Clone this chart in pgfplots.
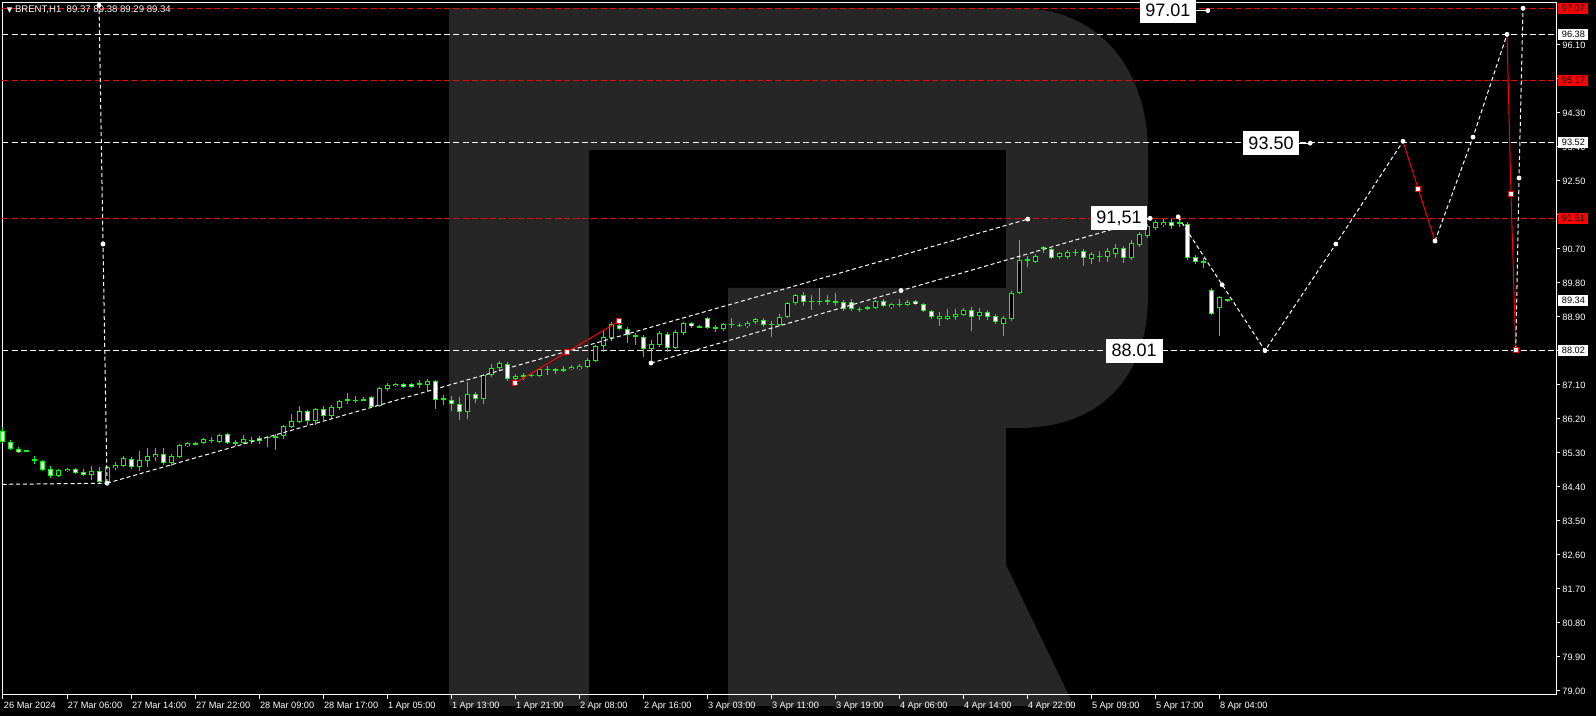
\documentclass[border=0pt]{standalone}
\usepackage{pgfplots}
\pgfplotsset{compat=1.18}
\usepackage{pgfplotstable}
\usepackage{fontspec}
\setmainfont{Liberation Sans}
\newfontfamily\symfont{DejaVu Sans}
\definecolor{cgreen}{HTML}{00FF00}
\definecolor{lgray}{HTML}{262626}
\newcommand\lf{\fontsize{4.6}{5.5}\selectfont}
\newcommand\tf{\fontsize{4.8}{5.5}\selectfont}
\newcommand\biglab{\fontsize{9}{10}\selectfont}

% bullish candles: i open high low close
\pgfplotstableread{
i o h l c
3 85.33 85.38 85.32 85.38
4 85.09 85.22 85.01 85.14
7 84.69 84.88 84.66 84.85
8 84.82 84.90 84.80 84.88
11 84.72 84.96 84.58 84.82
13 84.53 84.96 84.45 84.93
14 84.90 85.06 84.85 84.98
15 84.96 85.22 84.93 85.17
17 84.93 85.35 84.82 85.11
18 85.09 85.43 84.93 85.22
19 85.19 85.43 85.09 85.27
21 85.03 85.27 84.96 85.22
22 85.19 85.54 85.17 85.51
23 85.48 85.59 85.46 85.56
24 85.54 85.59 85.51 85.56
25 85.56 85.70 85.54 85.67
26 85.64 85.72 85.56 85.64
27 85.59 85.80 85.56 85.78
29 85.56 85.64 85.48 85.59
30 85.56 85.78 85.54 85.67
31 85.64 85.72 85.54 85.64
32 85.62 85.75 85.54 85.70
33 85.72 85.75 85.46 85.72
34 85.70 85.80 85.38 85.75
35 85.75 86.04 85.67 86.01
36 85.99 86.33 85.96 86.15
37 86.12 86.54 86.09 86.41
39 86.15 86.49 86.04 86.46
41 86.28 86.57 86.23 86.52
42 86.49 86.70 86.44 86.68
43 86.68 86.89 86.60 86.73
44 86.70 86.81 86.62 86.70
45 86.70 86.78 86.68 86.73
47 86.54 87.05 86.52 87.02
48 86.99 87.15 86.94 87.10
49 87.07 87.14 87.06 87.13
52 87.13 87.23 87.02 87.13
53 87.10 87.26 86.94 87.21
55 86.73 86.83 86.57 86.73
58 86.38 87.18 86.20 86.86
60 86.73 87.39 86.60 87.36
61 87.36 87.66 87.31 87.55
62 87.55 87.73 87.50 87.68
64 87.26 87.39 87.23 87.34
65 87.34 87.42 87.23 87.34
66 87.35 87.39 87.31 87.36
67 87.34 87.55 87.31 87.52
68 87.52 87.60 87.36 87.52
69 87.47 87.55 87.39 87.52
70 87.50 87.60 87.44 87.52
71 87.52 87.63 87.50 87.58
72 87.52 87.66 87.50 87.60
73 87.58 87.81 87.55 87.76
74 87.73 88.16 87.71 88.13
75 88.13 88.53 87.97 88.37
76 88.34 88.77 88.26 88.71
81 88.05 88.29 87.68 88.18
82 88.16 88.53 88.11 88.48
84 88.08 88.56 88.05 88.50
85 88.48 88.77 88.42 88.74
87 88.63 88.69 88.61 88.66
89 88.61 88.69 88.50 88.61
90 88.58 88.74 88.53 88.71
91 88.71 88.87 88.61 88.71
92 88.68 88.74 88.63 88.69
93 88.66 88.79 88.61 88.74
94 88.77 88.87 88.71 88.85
96 88.71 88.79 88.37 88.71
97 88.69 88.98 88.66 88.90
98 88.90 89.30 88.87 89.27
99 89.27 89.51 89.22 89.48
101 89.32 89.48 89.08 89.32
102 89.32 89.67 89.22 89.32
103 89.32 89.48 89.22 89.35
104 89.27 89.53 89.19 89.32
107 89.11 89.16 89.03 89.11
108 89.11 89.19 89.08 89.16
109 89.14 89.35 89.11 89.32
111 89.16 89.27 89.11 89.24
112 89.24 89.38 89.16 89.24
113 89.22 89.35 89.19 89.30
117 88.85 89.03 88.66 88.93
118 88.85 89.11 88.82 88.93
119 88.90 89.11 88.82 88.98
120 88.95 89.14 88.93 89.08
122 88.93 89.14 88.82 89.03
125 88.71 88.93 88.40 88.87
126 88.85 89.59 88.79 89.53
127 89.53 90.94 89.51 90.41
128 90.41 90.51 90.22 90.41
129 90.36 90.57 90.33 90.51
130 90.73 90.78 90.59 90.73
132 90.49 90.62 90.43 90.59
133 90.49 90.67 90.43 90.62
134 90.62 90.70 90.51 90.62
136 90.43 90.62 90.30 90.57
137 90.51 90.65 90.36 90.51
138 90.49 90.73 90.36 90.65
139 90.57 90.83 90.46 90.73
141 90.46 90.94 90.41 90.86
142 90.81 91.15 90.75 91.10
143 91.04 91.36 90.99 91.31
144 91.26 91.47 91.20 91.41
145 91.33 91.49 91.28 91.41
150 90.36 90.46 90.20 90.36
152 89.14 89.45 88.40 89.43
}\bull

% bearish candles: i open high low close
\pgfplotstableread{
i o h l c
0 85.88 85.99 85.56 85.59
1 85.59 85.64 85.38 85.40
2 85.40 85.46 85.30 85.33
5 85.09 85.11 84.82 84.85
6 84.88 84.96 84.64 84.69
9 84.88 84.90 84.74 84.77
10 84.80 84.88 84.69 84.72
12 84.82 84.93 84.50 84.53
16 85.14 85.19 84.88 84.93
20 85.27 85.43 84.98 85.03
28 85.80 85.83 85.54 85.56
38 86.41 86.44 86.04 86.15
40 86.46 86.54 86.17 86.28
46 86.78 86.81 86.49 86.52
50 87.13 87.15 87.02 87.05
51 87.13 87.15 87.02 87.05
54 87.21 87.23 86.46 86.70
56 86.70 86.81 86.41 86.60
57 86.60 86.78 86.17 86.38
59 86.86 86.91 86.62 86.73
63 87.66 87.71 87.21 87.26
77 88.69 88.74 88.56 88.58
78 88.58 88.63 88.21 88.42
79 88.42 88.48 88.16 88.37
80 88.37 88.42 87.84 88.05
83 88.45 88.50 87.97 88.08
86 88.74 88.77 88.61 88.66
88 88.87 88.90 88.58 88.61
95 88.82 88.87 88.63 88.69
100 89.48 89.56 89.19 89.30
105 89.30 89.35 89.06 89.11
106 89.30 89.38 89.06 89.11
110 89.32 89.38 89.16 89.19
114 89.32 89.35 89.22 89.24
115 89.24 89.27 89.03 89.06
116 89.06 89.08 88.85 88.90
121 89.08 89.16 88.53 88.90
123 89.03 89.08 88.82 88.90
124 88.93 88.98 88.71 88.77
131 90.70 90.73 90.43 90.46
135 90.65 90.70 90.25 90.46
140 90.73 90.78 90.33 90.46
146 91.41 91.49 91.23 91.31
147 91.41 91.51 91.28 91.36
148 91.36 91.41 90.41 90.46
149 90.49 90.54 90.30 90.36
151 89.61 89.67 88.95 88.98
153 89.37 89.38 89.29 89.34
}\bear

\pgfplotsset{
  candle/.style n args={2}{forget plot, draw=none, mark=none,
    error bars/.cd, y dir=both, y explicit, error mark=none,
    error bar style={draw=#1, line width=#2, solid, line cap=butt}},
}

\begin{document}
\begin{tikzpicture}
\path[use as bounding box, fill=black] (0,0) rectangle (798pt,358pt);
% background logo
\fill[lgray] (224.5pt,354pt) -- (509pt,354pt) .. controls (550pt,354pt) and (574pt,323pt) .. (574pt,281.5pt)
  -- (574pt,210.5pt) .. controls (574pt,169pt) and (550pt,144pt) .. (509pt,144pt)
  -- (503pt,144pt) -- (503pt,75.5pt) -- (537pt,5pt) -- (364pt,5pt) -- (364pt,214pt)
  -- (503pt,214pt) -- (503pt,283pt) -- (294.5pt,283pt) -- (294.5pt,5pt) -- (224.5pt,5pt) -- cycle;

\begin{axis}[
  at={(1.25pt,10.5pt)}, anchor=south west,
  width=776.75pt, height=346pt, scale only axis,
  xmin=-0.0625, xmax=194.125, ymin=78.894, ymax=97.211,
  clip=false,
  axis line style={white, line width=0.5pt},
  tick style={white, line width=0.5pt},
  tick align=outside, major tick length=2pt,
  xtick pos=bottom, ytick pos=right, yticklabel pos=right,
  xtick={0,8,16,24,32,40,48,56,64,72,80,88,96,104,112,120,128,136,144,152},
  xticklabels={26 Mar 2024,27 Mar 06:00,27 Mar 14:00,27 Mar 22:00,28 Mar 09:00,28 Mar 17:00,1 Apr 05:00,1 Apr 13:00,1 Apr 21:00,2 Apr 08:00,2 Apr 16:00,3 Apr 03:00,3 Apr 11:00,3 Apr 19:00,4 Apr 06:00,4 Apr 14:00,4 Apr 22:00,5 Apr 09:00,5 Apr 17:00,8 Apr 04:00},
  ytick={79,79.9,80.8,81.7,82.6,83.5,84.4,85.3,86.2,87.1,88,88.9,89.8,90.7,91.6,92.5,93.4,94.3,95.2,96.1},
  yticklabels={79.00,79.90,80.80,81.70,82.60,83.50,84.40,85.30,86.20,87.10,{},88.90,89.80,90.70,{},92.50,93.40,94.30,{},96.10},
  x tick label style={font=\lf, text=white, anchor=north west, inner sep=0pt, xshift=0.3pt, yshift=-1.5pt},
  y tick label style={font=\lf, text=white, anchor=west, inner sep=0pt, xshift=1pt},
]
% horizontal levels
\addplot[red, line width=0.5pt, dash pattern=on 3pt off 1.6pt] coordinates {(-0.0625,97.07) (194.125,97.07)};
\addplot[red, line width=0.5pt, dash pattern=on 3pt off 1.6pt] coordinates {(-0.0625,95.17) (194.125,95.17)};
\addplot[red, line width=0.5pt, dash pattern=on 3pt off 1.6pt] coordinates {(-0.0625,91.51) (194.125,91.51)};
\addplot[white, line width=0.5pt, dash pattern=on 3pt off 1.6pt] coordinates {(-0.0625,96.38) (194.125,96.38)};
\addplot[white, line width=0.5pt, dash pattern=on 3pt off 1.6pt] coordinates {(-0.0625,93.52) (194.125,93.52)};
\addplot[white, line width=0.5pt, dash pattern=on 3pt off 1.6pt] coordinates {(-0.0625,88.02) (194.125,88.02)};

% candles: wicks
\addplot[candle={cgreen}{0.5pt}]
  table[x=i, y expr={(\thisrow{h}+\thisrow{l})/2}, y error expr={(\thisrow{h}-\thisrow{l})/2}] {\bull};
\addplot[candle={cgreen}{0.5pt}]
  table[x=i, y expr={(\thisrow{h}+\thisrow{l})/2}, y error expr={(\thisrow{h}-\thisrow{l})/2}] {\bear};
% bodies outline
\addplot[candle={cgreen}{2.5pt}]
  table[x=i, y expr={(\thisrow{o}+\thisrow{c})/2}, y error expr={max(abs(\thisrow{c}-\thisrow{o})/2,0.0133)}] {\bull};
\addplot[candle={cgreen}{2.5pt}]
  table[x=i, y expr={(\thisrow{o}+\thisrow{c})/2}, y error expr={max(abs(\thisrow{c}-\thisrow{o})/2,0.0133)}] {\bear};
% bodies fill
\addplot[candle={black}{1.5pt}]
  table[x=i, y expr={(\thisrow{o}+\thisrow{c})/2}, y error expr={max(abs(\thisrow{c}-\thisrow{o})/2-0.0265,0)}] {\bull};
\addplot[candle={white}{1.5pt}]
  table[x=i, y expr={(\thisrow{o}+\thisrow{c})/2}, y error expr={max(abs(\thisrow{c}-\thisrow{o})/2-0.0265,0)}] {\bear};

% trend lines
\addplot[white, line width=0.5pt, dash pattern=on 2pt off 1.4pt] coordinates {(12.0,97.21) (13.0,84.50)};
\addplot[white, line width=0.5pt, dash pattern=on 2pt off 1.4pt] coordinates {(-0.06,84.47) (13.0,84.50)};
\addplot[white, line width=0.5pt, dash pattern=on 2pt off 1.4pt] coordinates {(13.0,84.50) (128.1,91.49)};
\addplot[white, line width=0.5pt, dash pattern=on 2pt off 1.4pt] coordinates {(81.0,87.68) (143.4,91.51)};
% red segment
\addplot[red, line width=0.5pt] coordinates {(64,87.15) (70.5,87.97) (77,88.79)};
% forecast
\addplot[white, line width=0.5pt, dash pattern=on 2pt off 1.4pt] coordinates {(146.9,91.55) (152.4,89.75) (157.75,88.01) (166.6,90.83) (175,93.55)};
\addplot[red, line width=0.5pt] coordinates {(175,93.55) (176.9,92.29) (179,90.91)};
\addplot[white, line width=0.5pt, dash pattern=on 2pt off 1.4pt] coordinates {(179,90.91) (183.75,93.66) (188,96.38)};
\addplot[red, line width=0.5pt] coordinates {(188,96.38) (188.5,92.15) (189.1,88.02)};
\addplot[white, line width=0.5pt, dash pattern=on 2pt off 1.4pt] coordinates {(189.1,88.02) (189.5,92.58) (190,97.07)};
% markers
\addplot[only marks, mark=square*, mark size=1.2pt, mark options={fill=white, draw=red, line width=0.5pt}] coordinates {(64,87.15) (70.5,87.97) (77,88.79) (176.9,92.29) (188.5,92.15) (189.1,88.02)};
\addplot[only marks, mark=*, mark size=1.0pt, white] coordinates {(12.0,97.15) (12.5,90.83) (13.0,84.50) (128.1,91.49) (81.0,87.68) (112.25,89.60) (143.4,91.51) (146.9,91.55) (152.4,89.75) (157.75,88.01) (166.6,90.83) (175,93.55) (179,90.91) (183.75,93.66) (188,96.38) (189.5,92.58) (190,97.07) (150.6,97.01) (163.4,93.50) (144.6,88.01)};

% stubs
\draw[white, line width=0.5pt] (axis cs:149.1,97.01) -- (axis cs:150.6,97.01);
\draw[white, line width=0.5pt] (axis cs:162.0,93.50) -- (axis cs:163.4,93.50);
\draw[white, line width=0.5pt] (axis cs:142.75,91.51) -- (axis cs:143.4,91.51);
\draw[white, line width=0.5pt] (axis cs:144.6,88.01) -- (axis cs:145.5,88.01);

% big labels
\node[fill=white, draw=white, text=black, font=\biglab, inner xsep=2.6pt, inner ysep=0pt, minimum height=11.5pt] at (axis cs:145.6,97.01) {97.01};
\node[fill=white, draw=white, text=black, font=\biglab, inner xsep=2.6pt, inner ysep=0pt, minimum height=11.5pt] at (axis cs:158.5,93.50) {93.50};
\node[fill=white, draw=white, text=black, font=\biglab, inner xsep=2.6pt, inner ysep=0pt, minimum height=11.5pt] at (axis cs:139.5,91.51) {91,51};
\node[fill=white, draw=white, text=black, font=\biglab, inner xsep=2.6pt, inner ysep=0pt, minimum height=11.5pt] at (axis cs:141.4,88.01) {88.01};

% price boxes on the scale
\node[anchor=west, fill=red, text=black, font=\lf, inner sep=0pt, minimum width=15pt, minimum height=5.5pt] at (axis cs:194.375,97.07) {97.07};
\node[anchor=west, fill=white, text=black, font=\lf, inner sep=0pt, minimum width=15pt, minimum height=5.5pt] at (axis cs:194.375,96.38) {96.38};
\node[anchor=west, fill=red, text=black, font=\lf, inner sep=0pt, minimum width=15pt, minimum height=5.5pt] at (axis cs:194.375,95.17) {95.17};
\node[anchor=west, fill=white, text=black, font=\lf, inner sep=0pt, minimum width=15pt, minimum height=5.5pt] at (axis cs:194.375,93.52) {93.52};
\node[anchor=west, fill=red, text=black, font=\lf, inner sep=0pt, minimum width=15pt, minimum height=5.5pt] at (axis cs:194.375,91.51) {91.51};
\node[anchor=west, fill=white, text=black, font=\lf, inner sep=0pt, minimum width=15pt, minimum height=5.5pt] at (axis cs:194.375,89.34) {89.34};
\node[anchor=west, fill=white, text=black, font=\lf, inner sep=0pt, minimum width=15pt, minimum height=5.5pt] at (axis cs:194.375,88.02) {88.02};
\end{axis}
\node[anchor=west, text=white, font=\tf, inner sep=0pt] at (3.2pt,353pt) {{\symfont\fontsize{3.6}{4}\selectfont ▼}\ BRENT,H1\ \ 89.37 89.38 89.29 89.34};
\end{tikzpicture}
\end{document}
